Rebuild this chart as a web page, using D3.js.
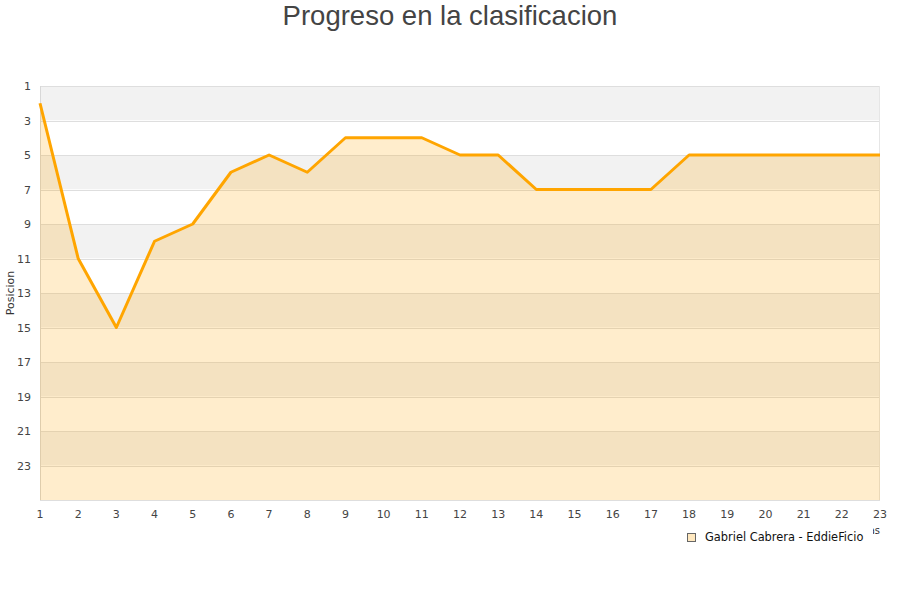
<!DOCTYPE html>
<html><head><meta charset="utf-8">
<script src="https://cdn.jsdelivr.net/npm/d3@7"></script>
<style>body{margin:0;background:#fff}svg{display:block}</style>
</head><body><svg id="c" width="900" height="600"></svg>
<script>
const jornadas = [1,2,3,4,5,6,7,8,9,10,11,12,13,14,15,16,17,18,19,20,21,22,23];
const posiciones = [2,11,15,10,9,6,5,6,4,4,4,5,5,7,7,7,7,5,5,5,5,5,5];
const yTicks = [1,3,5,7,9,11,13,15,17,19,21,23];
const seriesName = "Gabriel Cabrera - EddieFicio";
const titleText = "Progreso en la clasificacion";
const yTitle = "Posicion";
const xTitle = "Jornadas";

const svg = d3.select("#c");
const L=40,R=880,T=86,B=500;
const x = d3.scaleLinear().domain([1,23]).range([L,R]);
const y = d3.scaleLinear().domain([1,25]).range([T,B]);

// bands
const bands = d3.range(1,25,2);
svg.selectAll("rect.band").data(bands).enter().append("rect")
  .attr("x",L).attr("width",R-L)
  .attr("y",d=>y(d)).attr("height",d=>y(d+2)-y(d))
  .attr("fill",(d,i)=> i%2===0 ? "#f2f2f2" : "#ffffff");
// grid lines
svg.selectAll("line.grid").data(d3.range(1,26,2)).enter().append("line")
  .attr("x1",L).attr("x2",R).attr("y1",d=>Math.round(y(d))+0.5).attr("y2",d=>Math.round(y(d))+0.5)
  .attr("stroke","#dedede").attr("stroke-width",1);
svg.append("line").attr("x1",L+0.5).attr("x2",L+0.5).attr("y1",T).attr("y2",B).attr("stroke","#d8d8d8");
svg.append("line").attr("x1",R-0.5).attr("x2",R-0.5).attr("y1",T).attr("y2",B).attr("stroke","#e6e6e6");

const data = jornadas.map((j,i)=>({j,p:posiciones[i]}));
svg.append("path").datum(data)
  .attr("d",d3.area().x(d=>x(d.j)).y0(B).y1(d=>y(d.p)))
  .attr("fill","rgba(255,165,0,0.2)");
svg.append("path").datum(data)
  .attr("d",d3.line().x(d=>x(d.j)).y(d=>y(d.p)))
  .attr("fill","none").attr("stroke","#ffa500").attr("stroke-width",3).attr("stroke-linejoin","round");

svg.selectAll("text.yt").data(yTicks).enter().append("text")
  .attr("x",31).attr("y",d=>y(d)+4).attr("text-anchor","end")
  .attr("font-family","DejaVu Sans").attr("font-size",11).attr("fill","#444")
  .text(d=>d);
svg.selectAll("text.xt").data(jornadas).enter().append("text")
  .attr("x",d=>x(d)).attr("y",518).attr("text-anchor","middle")
  .attr("font-family","DejaVu Sans").attr("font-size",11).attr("fill","#444")
  .text(d=>d);

svg.append("text").attr("transform","translate(14,293) rotate(-90)")
  .attr("text-anchor","middle").attr("font-family","DejaVu Sans").attr("font-size",11).attr("fill","#333")
  .text(yTitle);
// x title (mostly hidden by legend, as in the reference)
svg.append("text").attr("x",880).attr("y",534).attr("text-anchor","end")
  .attr("font-family","DejaVu Sans").attr("font-size",10).attr("fill","#333").text(xTitle);

const lg = svg.append("g");
lg.append("rect").attr("x",680).attr("y",522).attr("width",193).attr("height",26).attr("fill","#fff");
lg.append("rect").attr("x",687.5).attr("y",533.5).attr("width",8).attr("height",8)
  .attr("fill","rgba(255,165,0,0.25)").attr("stroke","#666").attr("stroke-width",1);
lg.append("text").attr("x",705).attr("y",541).attr("font-family","DejaVu Sans").attr("font-size",11.4).attr("fill","#111")
  .text(seriesName);

svg.append("text").attr("x",450).attr("y",25).attr("text-anchor","middle")
  .attr("font-family","Liberation Sans, Arial").attr("font-size",27.5).attr("fill","#444")
  .text(titleText);
</script></body></html>
